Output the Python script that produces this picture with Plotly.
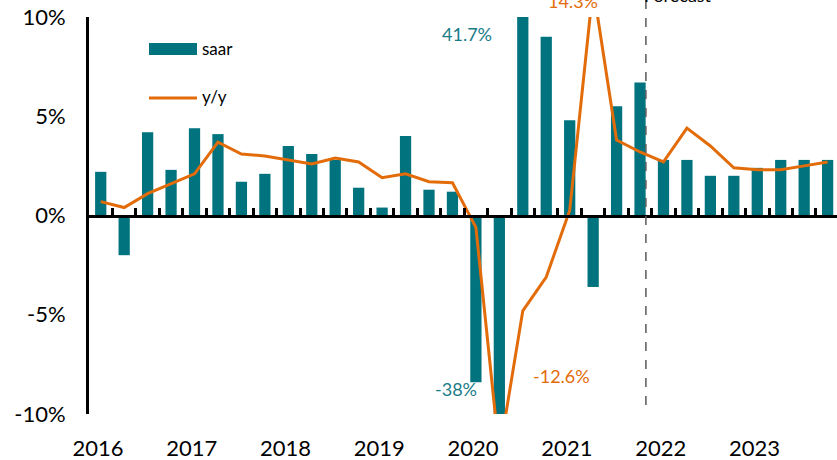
import plotly.graph_objects as go

# ---------------- data ----------------
quarters = [f"{y}Q{q}" for y in range(2016, 2024) for q in range(1, 5)]
saar = [2.2, -2.0, 4.2, 2.3, 4.4, 4.1, 1.7, 2.1,
        3.5, 3.1, 2.8, 1.4, 0.4, 4.0, 1.3, 1.2,
        -8.4, -38.0, 41.7, 9.0, 4.8, -3.6, 5.5, 6.7,
        2.8, 2.8, 2.0, 2.0, 2.4, 2.8, 2.8, 2.8]
yoy = [0.7, 0.4, 1.1, 1.6, 2.1, 3.7, 3.1, 3.0,
       2.8, 2.6, 2.9, 2.7, 1.9, 2.1, 1.7, 1.65,
       -0.6, -12.0, -4.8, -3.1, 0.25, 11.5, 3.8, 3.2,
       2.7, 4.4, 3.5, 2.4, 2.3, 2.3, 2.5, 2.7]
years = ["2016", "2017", "2018", "2019", "2020", "2021", "2022", "2023"]
y_ticks = [-10, -5, 0, 5, 10]
y_tick_text = ["-10%", "-5%", "0%", "5%", "10%"]
forecast_start = 23  # last actual quarter index (2021Q4)

TEAL = "#00737F"
ORANGE = "#E36C0A"
LABEL_TEAL = "#1A7C89"
FONT = "Lato"

W, H = 837, 460
ML, MR, MT, MB = 89, 0, 17, 46
PW, PH = W - ML - MR, H - MT - MB

def px_x(p):
    return (p - ML) / PW

def px_y(p):
    return (H - MB - p) / PH

xs = list(range(len(quarters)))

fig = go.Figure()
fig.add_trace(go.Bar(x=xs, y=saar, name="saar", marker=dict(color=TEAL, line=dict(width=0)),
                     width=0.48, showlegend=False))
fig.add_trace(go.Scatter(x=xs, y=yoy, name="y/y", mode="lines",
                         line=dict(color=ORANGE, width=3), showlegend=False))
# dummy trace so the zero-level category axis renders
fig.add_trace(go.Scatter(x=[], y=[], xaxis="x2", showlegend=False, hoverinfo="skip"))

shapes = []
# forecast divider
shapes.append(dict(type="line", xref="x", yref="paper", x0=forecast_start + 0.25, x1=forecast_start + 0.25,
                   y0=px_y(405), y1=px_y(0), line=dict(color="#595959", width=1.5, dash="dash"), layer="above"))
# legend swatches
shapes.append(dict(type="rect", xref="paper", yref="paper", x0=px_x(149), x1=px_x(197),
                   y0=px_y(55), y1=px_y(43), fillcolor=TEAL, line=dict(width=0)))
shapes.append(dict(type="line", xref="paper", yref="paper", x0=px_x(149), x1=px_x(197),
                   y0=px_y(98), y1=px_y(98), line=dict(color=ORANGE, width=3)))

annotations = [
    dict(text="saar", xref="paper", yref="paper", x=px_x(200), y=px_y(49), xanchor="left", yanchor="middle",
         showarrow=False, font=dict(family=FONT, size=17, color="black")),
    dict(text="y/y", xref="paper", yref="paper", x=px_x(200), y=px_y(97), xanchor="left", yanchor="middle",
         showarrow=False, font=dict(family=FONT, size=17, color="black")),
    dict(text="41.7%", xref="x", yref="y", x=15.62, y=9.14, showarrow=False,
         font=dict(family=FONT, size=18, color=LABEL_TEAL)),
    dict(text="14.3%", xref="x", yref="paper", x=20.14, y=px_y(1), showarrow=False,
         yanchor="middle", font=dict(family=FONT, size=18, color=ORANGE)),
    dict(text="-38%", xref="x", yref="y", x=15.13, y=-8.72, showarrow=False,
         font=dict(family=FONT, size=18, color=LABEL_TEAL)),
    dict(text="-12.6%", xref="x", yref="y", x=19.67, y=-8.09, showarrow=False,
         font=dict(family=FONT, size=18, color=ORANGE)),
    dict(text="Forecast", xref="x", yref="paper", x=forecast_start + 0.08, y=px_y(-5), xanchor="left",
         yanchor="middle", showarrow=False, font=dict(family=FONT, size=18, color="black")),
]

fig.update_layout(
    width=W, height=H,
    margin=dict(l=ML, r=MR, t=MT, b=MB, pad=0, autoexpand=False),
    paper_bgcolor="white", plot_bgcolor="white",
    showlegend=False,
    hovermode=False,
    font=dict(family=FONT, size=22, color="black"),
    xaxis=dict(range=[-0.5, 31.4], tickvals=[4 * i - 0.12 for i in range(len(years))], ticktext=years,
               showline=False, showgrid=False, zeroline=False, ticks="", automargin=False,
               tickfont=dict(family=FONT, size=22, color="black"), ticklabelstandoff=19),
    xaxis2=dict(range=[-0.5, 31.4], overlaying="x", anchor="free", position=0.5, side="bottom",
                showline=True, linewidth=3, linecolor="black", ticks="inside", ticklen=7, tickwidth=3,
                tickcolor="black", tickvals=[i + 0.5 for i in range(len(quarters))],
                showticklabels=False, showgrid=False, zeroline=False, automargin=False),
    yaxis=dict(range=[-10, 10], tickvals=y_ticks, ticktext=y_tick_text, showline=True, linewidth=3,
               linecolor="black", showgrid=False, zeroline=False, ticks="", automargin=False,
               tickfont=dict(family=FONT, size=22, color="black"), ticklabelstandoff=16),
    shapes=shapes,
    annotations=annotations,
)

fig.write_html("out.html", config={"displayModeBar": False},
               post_script="document.body.style.margin='0';")
